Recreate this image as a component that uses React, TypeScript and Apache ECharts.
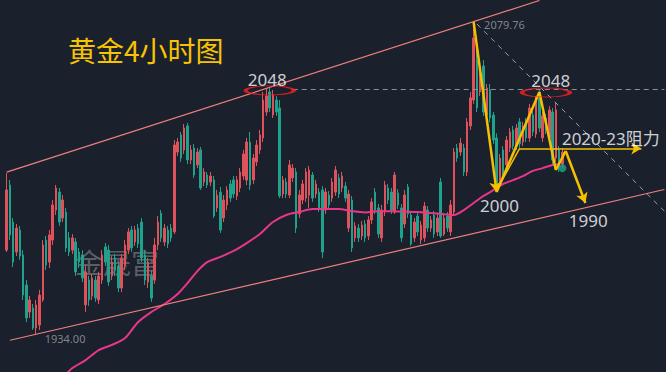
import React, { useEffect, useRef } from "react";
import * as echarts from "echarts";

// 4H gold candles: [open, close, low, high]
const candles: number[][] = [
  [1973.2, 2001.3, 1972.3, 2009.2], [2003.6, 1980.3, 1977.9, 2006.0], [1986.3, 1967.6, 1965.3, 1988.2], [1972.3, 1983.5, 1970.4, 1985.4],
  [1982.6, 1970.4, 1968.6, 1984.5], [1970.9, 1952.2, 1949.9, 1973.2], [1956.9, 1941.5, 1939.6, 1959.2], [1944.3, 1949.9, 1941.5, 1951.8],
  [1946.2, 1936.8, 1935.9, 1948.0], [1936.8, 1947.6, 1934.0, 1949.9], [1938.2, 1952.2, 1935.9, 1954.6], [1949.9, 1975.6, 1949.0, 1977.9],
  [1977.9, 1966.2, 1963.9, 1979.8], [1967.6, 1980.3, 1964.8, 1982.6], [1977.9, 1994.3, 1975.6, 1996.6], [1991.9, 2002.2, 1989.6, 2003.6],
  [2000.3, 1986.3, 1984.5, 2002.2], [1988.2, 1996.6, 1986.3, 1998.9], [1991.0, 1974.2, 1972.3, 1992.9], [1978.9, 1972.3, 1970.4, 1981.7],
  [1973.2, 1978.9, 1971.4, 1980.7], [1977.0, 1963.0, 1961.1, 1978.9], [1972.3, 1967.6, 1964.8, 1974.2], [1970.9, 1960.2, 1958.3, 1973.2],
  [1947.6, 1963.0, 1944.3, 1966.2], [1959.2, 1949.9, 1947.1, 1961.1], [1951.8, 1960.2, 1949.9, 1962.0], [1959.2, 1950.8, 1949.0, 1961.1],
  [1949.9, 1961.1, 1948.0, 1963.0], [1959.2, 1970.9, 1957.4, 1973.2], [1974.7, 1967.6, 1965.8, 1976.5], [1973.2, 1958.3, 1956.4, 1975.6],
  [1961.1, 1967.6, 1959.2, 1970.4], [1969.5, 1963.9, 1961.1, 1971.4], [1965.8, 1955.5, 1953.6, 1967.6], [1955.5, 1969.5, 1953.6, 1971.4],
  [1966.2, 1975.6, 1963.9, 1977.9], [1973.2, 1981.7, 1971.4, 1983.5], [1982.6, 1974.2, 1972.3, 1984.5], [1977.0, 1982.6, 1975.1, 1984.5],
  [1983.5, 1976.1, 1974.2, 1985.4], [1986.3, 1969.5, 1967.6, 1988.2], [1970.9, 1959.2, 1956.9, 1973.2], [1958.3, 1967.6, 1955.5, 1969.5],
  [1961.1, 1950.8, 1949.0, 1963.9], [1959.2, 1975.6, 1957.4, 1978.9], [1975.6, 1986.3, 1973.2, 1989.1], [1990.5, 1978.9, 1977.0, 1991.9],
  [1977.0, 1983.5, 1975.1, 1985.4], [1982.6, 1976.1, 1974.2, 1984.5], [1983.5, 1978.9, 1977.0, 1985.4], [1981.7, 2022.3, 1980.7, 2024.6],
  [2019.0, 2023.7, 2017.2, 2025.6], [2027.0, 2016.2, 2014.4, 2028.4], [2020.0, 2030.2, 2018.1, 2032.1], [2031.2, 2015.3, 2013.4, 2032.6],
  [2015.3, 2020.0, 2013.4, 2022.3], [2020.9, 2008.3, 2006.9, 2022.8], [2013.0, 2019.0, 2011.5, 2020.9], [2020.0, 2002.2, 2001.3, 2021.4],
  [2005.0, 2009.7, 2003.1, 2011.5], [2008.3, 2003.6, 2002.2, 2009.7], [2005.0, 2007.8, 2003.1, 2009.7], [2006.0, 1989.1, 1988.2, 2007.8],
  [1992.9, 1998.9, 1991.0, 2001.3], [2000.3, 1982.6, 1981.2, 2002.7], [1988.2, 1996.6, 1986.3, 1998.9], [1994.3, 2001.3, 1991.9, 2003.1],
  [2004.1, 1997.5, 1995.7, 2006.0], [2006.0, 1999.4, 1997.5, 2007.8], [1998.5, 2006.0, 1996.6, 2007.8], [2002.2, 2009.7, 2000.3, 2011.5],
  [2007.8, 2018.1, 2006.0, 2020.0], [2005.9, 2023.7, 2003.6, 2025.6], [2023.7, 2003.6, 2001.3, 2028.4], [2006.0, 2016.2, 2004.1, 2018.1],
  [2014.4, 2022.3, 2012.5, 2024.6], [2020.0, 2027.0, 2018.1, 2029.3], [2025.6, 2043.3, 2023.7, 2047.1], [2037.7, 2045.2, 2035.9, 2048.9],
  [2047.1, 2039.6, 2037.7, 2048.9], [2036.3, 2045.7, 2034.9, 2048.0], [2043.3, 2037.7, 2035.9, 2045.2], [2039.6, 1998.5, 1997.5, 2043.3],
  [1999.4, 2006.0, 1997.5, 2007.8], [2005.0, 1999.4, 1997.5, 2006.9], [1998.9, 2013.0, 1997.5, 2015.3], [2006.9, 2011.5, 2005.0, 2013.4],
  [2009.7, 1983.5, 1981.2, 2011.5], [1990.1, 1998.9, 1988.2, 2001.3], [1996.6, 2004.1, 1994.7, 2006.0], [1997.5, 2009.7, 1995.7, 2011.5],
  [1998.9, 2010.6, 1992.9, 2012.5], [2008.3, 1997.5, 1995.7, 2009.7], [1999.4, 2004.1, 1997.5, 2006.0], [2000.3, 1992.9, 1991.0, 2002.2],
  [2001.3, 1972.3, 1969.5, 2003.1], [1991.9, 2000.3, 1990.1, 2002.2], [1998.9, 1994.3, 1992.4, 2000.8], [1997.5, 2005.0, 1995.7, 2006.9],
  [2000.3, 2010.6, 1998.5, 2012.5], [2006.9, 1999.4, 1997.5, 2008.8], [2002.2, 2007.8, 2000.3, 2009.7], [2003.1, 1997.5, 1995.7, 2005.0],
  [1983.5, 1999.4, 1981.7, 2001.3], [1996.6, 1974.2, 1972.3, 1998.5], [1978.9, 1984.5, 1977.0, 1986.3], [1983.5, 1978.9, 1977.0, 1985.4],
  [1979.8, 1984.9, 1977.9, 1986.8], [1985.4, 1978.9, 1977.0, 1987.3], [1979.8, 1987.3, 1977.9, 1989.1], [1987.3, 1995.7, 1985.4, 1997.5],
  [2000.3, 1991.9, 1990.1, 2002.2], [1992.9, 1980.7, 1978.9, 1994.7], [1978.9, 1991.9, 1977.0, 1994.3], [1991.0, 2003.6, 1989.1, 2005.5],
  [2002.2, 1996.6, 1994.7, 2004.1], [2000.3, 1991.9, 1990.1, 2002.2], [1991.0, 2008.3, 1990.1, 2009.7], [1999.9, 1994.3, 1992.4, 2001.7],
  [1992.9, 1978.9, 1977.0, 1994.7], [1985.4, 1998.9, 1983.5, 2001.3], [2002.7, 1990.1, 1988.2, 2004.1], [1989.6, 1976.0, 1975.1, 1991.5],
  [1978.9, 1986.3, 1977.0, 1988.2], [1989.1, 1981.7, 1979.8, 1991.0], [1977.9, 1984.9, 1976.0, 1986.8], [1978.9, 1993.8, 1977.0, 1995.7],
  [1991.9, 1983.5, 1981.7, 1993.8], [1983.5, 1987.3, 1981.7, 1989.1], [1989.6, 1980.7, 1978.9, 1991.5], [1981.7, 1988.2, 1979.8, 1990.1],
  [2005.0, 1979.8, 1978.9, 2006.9], [1980.7, 1988.2, 1979.8, 1990.1], [1989.1, 1983.5, 1981.7, 1991.0], [1981.7, 1994.3, 1979.8, 1996.6],
  [1991.0, 2019.0, 1989.1, 2020.9], [2020.9, 2016.2, 2014.4, 2022.8], [2019.0, 2023.2, 2017.2, 2025.6], [2020.9, 2009.7, 2007.8, 2022.8],
  [2009.7, 2033.0, 2007.8, 2034.9], [2031.2, 2044.3, 2029.3, 2047.1], [2043.3, 2072.3, 2041.5, 2079.76], [2062.0, 2039.6, 2037.7, 2066.7],
  [2047.1, 2058.3, 2045.2, 2061.1], [2059.2, 2037.7, 2035.9, 2062.0], [2036.3, 2048.9, 2031.6, 2050.8], [2048.0, 2034.9, 2033.0, 2050.8],
  [2036.3, 2024.6, 2022.8, 2037.7], [2025.6, 2003.1, 2000.3, 2027.7], [2005.0, 2016.2, 2003.1, 2018.1], [2020.0, 2008.3, 2006.0, 2021.8],
  [2013.0, 2024.6, 2010.6, 2026.5], [2020.9, 2028.4, 2019.0, 2030.2], [2029.3, 2021.8, 2020.0, 2031.2], [2021.8, 2030.2, 2020.0, 2032.1],
  [2033.1, 2022.8, 2020.9, 2034.9], [2023.7, 2031.2, 2021.8, 2033.1], [2032.1, 2025.6, 2023.7, 2034.9], [2025.6, 2039.6, 2023.7, 2041.5],
  [2036.3, 2028.4, 2026.5, 2038.2], [2027.4, 2043.3, 2025.6, 2045.2], [2044.3, 2030.2, 2028.4, 2048.0], [2025.6, 2035.9, 2023.7, 2037.7],
  [2034.9, 2029.3, 2027.4, 2036.8], [2025.6, 2038.7, 2023.7, 2040.5], [2037.7, 2015.3, 2013.0, 2039.6], [2016.2, 2038.7, 2014.4, 2042.4],
  [2020.0, 2011.6, 2009.7, 2021.8], [2013.4, 2019.0, 2011.6, 2020.9],
];

// category slots (bars plus empty future slots on the right)
const categories: string[] = Array.from({ length: 201 }, (_, i) => String(i));

// moving average: [slot, price]
const maPoints: number[][] = [
  [17, 1913.4], [20, 1918.1], [24, 1921.8], [28, 1926.5], [32, 1928.9], [36, 1932.1], [40, 1939.6], [44, 1944.3],
  [48, 1948.0], [52, 1952.7], [55, 1957.8], [58, 1963.4], [61, 1967.6], [65, 1970.0], [69, 1972.8], [73, 1976.5],
  [77, 1980.7], [81, 1986.3], [85, 1989.6], [89, 1991.0], [93, 1992.4], [97, 1992.4], [101, 1992.4], [105, 1991.4],
  [109, 1990.8], [113, 1991.4], [117, 1991.4], [121, 1991.2], [125, 1991.0], [129, 1990.5], [133, 1990.0], [136, 1989.6],
  [139, 1991.9], [142, 1995.2], [145, 1998.5], [148, 2001.2], [151, 2004.1], [154, 2005.9], [157, 2007.8], [160, 2010.2],
  [163, 2011.5], [166, 2013.0], [168, 2013.4],
];

// trend lines: [slot, price] end points
const upperChannel: number[][] = [[0, 2009.6], [162, 2089.8]];
const lowerChannel: number[][] = [[1, 1931.1], [200, 2001.5]];
const level2048: number[][] = [[87, 2048.3], [200, 2048.3]];
const fallLine: number[][] = [[143, 2078.8], [200, 1991.4]];
const zigzag: number[][] = [[142, 2079.76], [149, 2000.3], [162, 2047.1], [167, 2010.6], [170, 2019.5], [176, 1995.2]];
const zigzagArrows: number[] = [1, 5];
const resistPath: number[][] = [[149, 2001.3], [156, 2020.7], [193, 2020.7]];

// annotations
const noteTexts: string[] = ["2048", "2048", "2000", "1990", "2020-23阻力"];
const noteSlots: number[] = [80, 165, 150, 177, 169];
const notePrices: number[] = [2052.7, 2052.0, 1993.8, 1986.8, 2025.3];
const priceTags: string[] = ["2079.76", "1934.00"];
const priceTagSlots: number[] = [142, 9];
const priceTagValues: number[] = [2079.76, 1934.0];
const circleSlots: number[] = [80, 164];
const circlePrices: number[] = [2047.8, 2046.8];
const lastDot: number[] = [169, 2011.5];

const titleText = "黄金4小时图";
const watermarkText = "金晟富";

export default function App() {
  const ref = useRef<HTMLDivElement>(null);

  useEffect(() => {
    document.body.style.margin = "0";
    document.body.style.background = "#1a202c";
    if (!ref.current) return;
    const chart = echarts.init(ref.current, undefined, { renderer: "svg" });

    const upColor = "#e0525b";
    const downColor = "#1fa28b";
    const yellow = "#f5c000";
    const font = "'Noto Sans', 'Noto Sans CJK SC', sans-serif";

    const seg = (a: number[], b: number[], style: any, endSym = "none") => [
      { coord: a, lineStyle: style, symbol: "none" },
      { coord: b, symbol: endSym },
    ];

    const lines: any[] = [];
    lines.push(seg(upperChannel[0], upperChannel[1], { color: "#ee7f7f", width: 1.2, type: "solid" }));
    lines.push(seg(lowerChannel[0], lowerChannel[1], { color: "#ee7f7f", width: 1.2, type: "solid" }));
    lines.push(seg(level2048[0], level2048[1], { color: "#8a9099", width: 1, type: [5, 4] }));
    lines.push(seg(fallLine[0], fallLine[1], { color: "#9aa0a8", width: 1, type: [5, 5] }));
    for (let k = 0; k < zigzag.length - 1; k++) {
      lines.push(
        seg(zigzag[k], zigzag[k + 1], { color: yellow, width: 2.5, type: "solid" }, zigzagArrows.includes(k + 1) ? "arrow" : "none")
      );
    }
    for (let k = 0; k < resistPath.length - 1; k++) {
      lines.push(
        seg(resistPath[k], resistPath[k + 1], { color: yellow, width: 1.5, type: "solid" }, k === resistPath.length - 2 ? "arrow" : "none")
      );
    }

    const noteOffsets = [[-2, 0], [2, 0], [0, 0], [0, 0], [0, 0]];
    const notes = noteTexts.map((t, k) => ({
      value: [noteSlots[k], notePrices[k]],
      label: {
        show: true,
        formatter: t,
        position: [0, 0],
        align: k === 4 ? "left" : "center",
        verticalAlign: "middle",
        offset: noteOffsets[k],
        color: "#ffffff",
        fontSize: 17,
        fontFamily: font,
      },
    }));
    const tagOffsets = [[11, 3], [9, 4.5]];
    const tags = priceTags.map((t, k) => ({
      value: [priceTagSlots[k], priceTagValues[k]],
      label: {
        show: true,
        formatter: t,
        position: [0, 0],
        align: "left",
        verticalAlign: "middle",
        offset: tagOffsets[k],
        color: "#9aa0a7",
        fontSize: 11,
        fontFamily: font,
      },
    }));

    chart.setOption({
      animation: false,
      backgroundColor: "#1a202c",
      grid: { left: 5, right: 0, top: 0, bottom: 0 },
      xAxis: {
        type: "category",
        data: categories,
        boundaryGap: true,
        show: false,
      },
      yAxis: {
        type: "value",
        min: 1916.25,
        max: 2090.04,
        show: false,
        splitLine: { show: false },
      },
      graphic: [
        {
          type: "text",
          left: 75,
          top: 248,
          z: 0,
          style: { text: watermarkText, font: "28px 'Noto Sans CJK SC'", fill: "#5a5e65" },
        },
        {
          type: "text",
          left: 68,
          top: 36,
          z: 10,
          style: { text: titleText, font: "28px 'Noto Sans CJK SC'", fill: "#f8c300" },
        },
      ],
      series: [
        {
          type: "candlestick",
          data: candles,
          barWidth: 2,
          z: 3,
          itemStyle: {
            color: upColor,
            color0: downColor,
            borderColor: upColor,
            borderColor0: downColor,
            borderWidth: 1,
          },
          markLine: {
            silent: true,
            animation: false,
            symbolSize: [9, 10],
            label: { show: false },
            emphasis: { disabled: true },
            data: lines,
          },
        },
        {
          type: "line",
          data: maPoints,
          smooth: 0.3,
          showSymbol: false,
          z: 4,
          lineStyle: { color: "#e8378b", width: 2 },
          silent: true,
        },
        {
          type: "scatter",
          data: circleSlots.map((s, k) => [s, circlePrices[k]]),
          symbol: "path://M0,50 A100,50 0 1 1 200,50 A100,50 0 1 1 0,50 Z",
          symbolSize: [48, 9],
          z: 6,
          silent: true,
          itemStyle: { color: "rgba(0,0,0,0)", borderColor: "#ff2020", borderWidth: 2 },
        },
        {
          type: "scatter",
          data: [lastDot],
          symbol: "circle",
          symbolSize: 8,
          z: 6,
          silent: true,
          itemStyle: { color: downColor },
        },
        {
          type: "scatter",
          data: [...notes, ...tags],
          symbolSize: 1,
          z: 7,
          silent: true,
          itemStyle: { color: "rgba(0,0,0,0)" },
        },
      ],
    });

    return () => chart.dispose();
  }, []);

  return <div ref={ref} style={{ width: 666, height: 372 }} />;
}
